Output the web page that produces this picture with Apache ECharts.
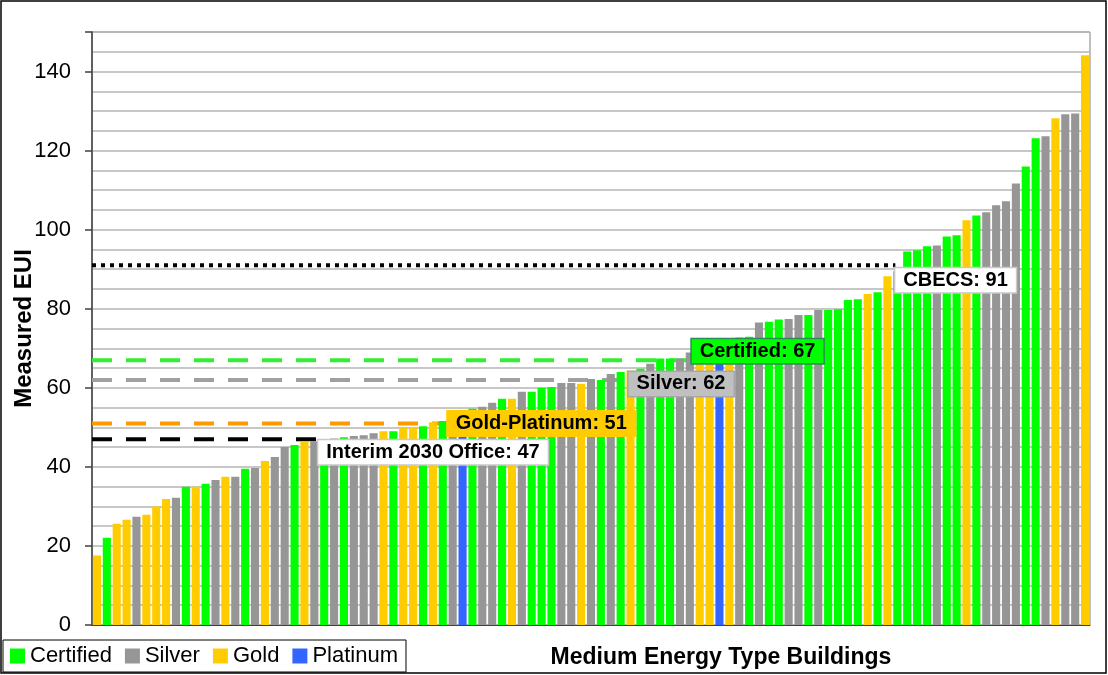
<!DOCTYPE html>
<html>
<head>
<meta charset="utf-8">
<script src="https://cdn.jsdelivr.net/npm/echarts@6/dist/echarts.min.js"></script>
<style>
  html, body { margin: 0; padding: 0; background: #fff; }
  #chart { width: 1108px; height: 675px; }
</style>
</head>
<body>
<div id="chart"></div>
<script>
// level of each building, C = Certified, S = Silver, G = Gold, P = Platinum
const buildingLevels = [
  'G','C','G','G','S','G','G','G','S','C',
  'G','C','S','G','S','C','S','G','S','S',
  'C','G','S','C','S','C','S','S','S','G',
  'C','G','G','C','G','C','S','P','C','S',
  'S','C','G','S','C','C','C','S','S','G',
  'S','C','S','C','G','C','S','C','C','S',
  'S','G','G','P','G','S','C','S','C','C',
  'S','S','C','S','C','C','C','C','G','C',
  'G','C','C','C','C','S','C','C','G','C',
  'S','S','S','S','C','C','S','G','S','S',
  'G'
]
const measuredEui = [
  17.6, 22.1, 25.6, 26.6, 27.4, 27.9, 30.0, 31.9, 32.2, 35.0,
  35.0, 35.7, 36.7, 37.5, 37.5, 39.5, 39.7, 41.5, 42.5, 45.0,
  45.5, 46.3, 46.5, 47.0, 47.2, 47.5, 47.8, 48.0, 48.5, 49.0,
  49.0, 50.0, 50.0, 50.3, 51.3, 51.6, 52.0, 52.5, 54.7, 55.2,
  56.2, 57.2, 57.2, 59.0, 59.0, 60.0, 60.2, 61.2, 61.2, 61.0,
  62.2, 62.0, 63.5, 64.0, 64.3, 64.8, 66.1, 67.4, 67.4, 67.4,
  68.9, 69.5, 70.2, 70.8, 71.5, 72.7, 72.9, 76.5, 76.7, 77.3,
  77.4, 78.4, 78.4, 79.7, 79.7, 79.9, 82.2, 82.4, 83.7, 84.2,
  88.2, 89.5, 94.5, 94.8, 95.8, 96.0, 98.3, 98.6, 102.4, 103.6,
  104.4, 106.2, 107.2, 111.7, 116.0, 123.1, 123.6, 128.2, 129.2, 129.4,
  144.1
]
const levelCodes = ['C', 'S', 'G', 'P']
const levelNames = ['Certified', 'Silver', 'Gold', 'Platinum']

// reference lines: name, value, and the building slot where the line stops
const refNames = ['Interim 2030 Office', 'Gold-Platinum', 'Silver', 'Certified', 'CBECS']
const refValues = [47, 51, 62, 67, 91]
const refEnds = [22.9, 36.0, 54.3, 60.7, 81.3]

const levelColors = ['#00ff00', '#969696', '#ffcc00', '#3366ff']
const refStyles = [
  { color: '#000000', type: [20, 14], bg: '#ffffff', border: '#c8c8c8', dy: 13 },
  { color: '#ff9900', type: [20, 14], bg: '#ffcc00', border: '#ffcc00', dy: 0 },
  { color: '#a0a0a0', type: [20, 14], bg: '#c0c0c0', border: '#a8a8a8', dy: 4 },
  { color: '#33ee33', type: [20, 14], bg: '#00ff00', border: '#2e8b57', dy: -9 },
  { color: '#000000', type: [4, 5], bg: '#ffffff', border: '#c8c8c8', dy: 15 },
]

const categories = measuredEui.map((v, i) => 'B' + (i + 1))

const initOption = () => {
  let series = []
  for (let k in levelCodes) {
    series.push({
      name: levelNames[k],
      type: 'bar',
      stack: 'eui',
      barCategoryGap: '18%',
      itemStyle: { color: levelColors[k] },
      z: 3,
      data: measuredEui.map((v, i) => buildingLevels[i] === levelCodes[k] ? v : '-'),
    })
  }
  let labelData = []
  for (let r in refNames) {
    let st = refStyles[r]
    series.push({
      name: refNames[r],
      type: 'line',
      xAxisIndex: 1,
      yAxisIndex: 0,
      symbol: 'none',
      z: 2,
      silent: true,
      lineStyle: { color: st.color, width: 4, type: st.type, cap: 'butt' },
      data: [[0, refValues[r]], [refEnds[r], refValues[r]]],
    })
    labelData.push({
      value: [refEnds[r], refValues[r]],
      label: {
        offset: [0, st.dy],
        formatter: refNames[r] + ': ' + refValues[r],
        backgroundColor: st.bg,
        borderColor: st.border,
      }
    })
  }
  // boxed labels at the end of each reference line, above the bars
  series.push({
    name: 'refLabels',
    type: 'scatter',
    xAxisIndex: 1,
    yAxisIndex: 0,
    symbolSize: 0,
    z: 10,
    silent: true,
    itemStyle: { color: 'rgba(0,0,0,0)', opacity: 1 },
    label: {
      show: true,
      position: 'right',
      distance: 0,
      fontFamily: 'Liberation Sans',
      fontWeight: 'bold',
      fontSize: 20,
      color: '#000',
      borderWidth: 1.5,
      padding: [3, 8, 1, 8],
    },
    data: labelData,
  })

  let option = {
    animation: false,
    textStyle: { fontFamily: 'Liberation Sans' },
    grid: {
      left: 92, right: 18, top: 32, bottom: 50,
      containLabel: false,
      outerBoundsMode: 'none',
      show: true, borderColor: '#808080', borderWidth: 1,
    },
    legend: {
      data: levelNames,
      left: 3,
      top: 640,
      itemWidth: 15,
      itemHeight: 15,
      itemGap: 13,
      icon: 'rect',
      padding: [5, 8, 5, 7],
      borderColor: '#000',
      borderWidth: 1,
      backgroundColor: '#fff',
      textStyle: { fontSize: 22, color: '#000', fontFamily: 'Liberation Sans' },
    },
    xAxis: [
      {
        type: 'category',
        data: categories,
        name: 'Medium Energy Type Buildings',
        nameLocation: 'middle',
        nameGap: 21,
        nameMoveOverlap: false,
        nameTextStyle: { fontSize: 23, fontWeight: 'bold', color: '#000', padding: [0, 0, 0, 260] },
        axisLine: { lineStyle: { color: '#404040', width: 1 } },
        axisTick: { show: false },
        axisLabel: { show: false },
      },
      { type: 'value', min: 0, max: measuredEui.length, show: false },
    ],
    yAxis: [
      {
        type: 'value',
        min: 0, max: 150, interval: 5,
        axisLine: { show: true, lineStyle: { color: '#404040', width: 1.5 } },
        axisTick: { show: false },
        axisLabel: { show: false },
        splitLine: { show: true, lineStyle: { color: '#b4b4b4', width: 1.5 } },
      },
      {
        type: 'value',
        position: 'left',
        min: 0, max: 150, interval: 20,
        name: 'Measured EUI',
        nameLocation: 'middle',
        nameGap: 56,
        nameMoveOverlap: false,
        nameTextStyle: { fontSize: 24, fontWeight: 'bold', color: '#000' },
        axisLine: { show: false },
        axisTick: { show: true, length: 7, inside: false, lineStyle: { color: '#404040', width: 1.5 } },
        axisLabel: {
          fontSize: 22, color: '#000', margin: 21,
          formatter: (v) => v % 20 === 0 ? v : '',
        },
        splitLine: { show: false },
      },
    ],
    graphic: [
      {
        type: 'rect',
        shape: { x: 1, y: 1, width: 1105, height: 672 },
        style: { fill: 'none', stroke: '#000', lineWidth: 1.5 },
        silent: true,
      },
    ],
    series: series,
  }
  return option
}

const initChart = () => {
  echarts.init(document.getElementById('chart')).setOption(initOption())
}

initChart()
</script>
</body>
</html>
